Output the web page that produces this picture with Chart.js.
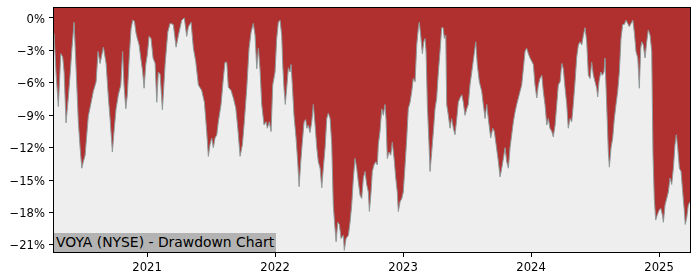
<!DOCTYPE html>
<html><head><meta charset="utf-8">
<script src="https://cdn.jsdelivr.net/npm/chart.js@4/dist/chart.umd.min.js"></script>
<style>
html,body{margin:0;padding:0;background:#fff;}
#wrap{position:relative;width:700px;height:280px;}
#label{position:absolute;left:54px;top:233px;height:19px;width:222px;background:#b3b3b3;font-family:"DejaVu Sans";font-size:13.9px;line-height:19px;color:#000;padding-left:2px;box-sizing:border-box;white-space:nowrap;}
</style></head>
<body><div id="wrap"><canvas id="c" width="700" height="280"></canvas><div id="label">VOYA (NYSE) - Drawdown Chart</div></div>
<script>
// Dates as decimal years
const dates = [
2020.273,2020.289,2020.307,2020.326,2020.341,2020.352,2020.367,2020.385,2020.398,2020.412,
2020.430,2020.445,2020.463,2020.477,2020.490,2020.502,2020.516,2020.529,2020.541,2020.560,
2020.580,2020.602,2020.617,2020.633,2020.659,2020.680,2020.698,2020.711,2020.729,2020.742,
2020.758,2020.776,2020.795,2020.809,2020.820,2020.834,2020.846,2020.862,2020.875,2020.888,
2020.901,2020.914,2020.924,2020.938,2020.951,2020.966,2020.977,2020.990,2021.002,2021.016,
2021.031,2021.047,2021.063,2021.076,2021.088,2021.102,2021.120,2021.141,2021.162,2021.180,
2021.205,2021.227,2021.245,2021.271,2021.291,2021.310,2021.323,2021.344,2021.362,2021.380,
2021.401,2021.427,2021.448,2021.466,2021.479,2021.492,2021.505,2021.518,2021.531,2021.545,
2021.557,2021.578,2021.596,2021.609,2021.623,2021.635,2021.656,2021.674,2021.693,2021.709,
2021.727,2021.745,2021.760,2021.779,2021.797,2021.813,2021.830,2021.844,2021.857,2021.870,
2021.883,2021.896,2021.914,2021.930,2021.940,2021.955,2021.969,2021.982,2022.000,2022.013,
2022.026,2022.039,2022.052,2022.060,2022.070,2022.080,2022.091,2022.104,2022.117,2022.125,
2022.135,2022.148,2022.164,2022.177,2022.188,2022.201,2022.213,2022.227,2022.240,2022.248,
2022.260,2022.273,2022.287,2022.299,2022.313,2022.326,2022.338,2022.352,2022.365,2022.377,
2022.391,2022.404,2022.416,2022.430,2022.443,2022.455,2022.466,2022.477,2022.490,2022.502,
2022.516,2022.534,2022.541,2022.555,2022.573,2022.586,2022.599,2022.612,2022.625,2022.638,
2022.651,2022.664,2022.677,2022.690,2022.703,2022.716,2022.729,2022.737,2022.750,2022.760,
2022.773,2022.787,2022.799,2022.807,2022.820,2022.834,2022.846,2022.859,2022.867,2022.877,
2022.891,2022.904,2022.916,2022.930,2022.943,2022.955,2022.963,2022.977,2022.990,2023.002,
2023.016,2023.029,2023.041,2023.055,2023.068,2023.080,2023.094,2023.107,2023.120,2023.127,
2023.138,2023.151,2023.162,2023.172,2023.180,2023.190,2023.203,2023.211,2023.224,2023.237,
2023.250,2023.263,2023.276,2023.289,2023.302,2023.313,2023.323,2023.334,2023.341,2023.354,
2023.367,2023.380,2023.393,2023.406,2023.420,2023.432,2023.445,2023.459,2023.471,2023.484,
2023.498,2023.510,2023.523,2023.537,2023.555,2023.568,2023.580,2023.596,2023.615,2023.627,
2023.641,2023.654,2023.666,2023.685,2023.701,2023.713,2023.727,2023.745,2023.758,2023.771,
2023.784,2023.797,2023.810,2023.823,2023.836,2023.849,2023.862,2023.875,2023.888,2023.901,
2023.914,2023.927,2023.940,2023.953,2023.966,2023.979,2023.992,2024.005,2024.018,2024.031,
2024.045,2024.057,2024.070,2024.084,2024.096,2024.109,2024.123,2024.135,2024.148,2024.162,
2024.174,2024.188,2024.201,2024.213,2024.227,2024.240,2024.252,2024.266,2024.279,2024.291,
2024.305,2024.318,2024.330,2024.344,2024.357,2024.370,2024.383,2024.396,2024.409,2024.422,
2024.435,2024.448,2024.461,2024.474,2024.487,2024.500,2024.513,2024.521,2024.531,2024.545,
2024.557,2024.570,2024.578,2024.591,2024.604,2024.612,2024.625,2024.638,2024.651,2024.664,
2024.677,2024.690,2024.703,2024.716,2024.729,2024.742,2024.755,2024.768,2024.781,2024.795,
2024.807,2024.820,2024.834,2024.846,2024.857,2024.865,2024.877,2024.891,2024.904,2024.916,
2024.930,2024.943,2024.953,2024.963,2024.974,2024.987,2025.000,2025.013,2025.026,2025.034,
2025.047,2025.060,2025.073,2025.086,2025.099,2025.112,2025.125,2025.135,2025.146,2025.159,
2025.172,2025.185,2025.198,2025.205,2025.216,2025.229,2025.242
];
// Drawdown in percent
const drawdown = [
-1.4,-5.1,-8.2,-3.3,-3.6,-5.0,-9.7,-7.3,-5.4,-3.0,
-0.4,-4.5,-9.6,-12.0,-13.9,-13.3,-12.7,-10.8,-9.1,-8.0,
-6.8,-5.9,-3.1,-4.2,-2.7,-4.2,-7.4,-9.3,-12.4,-10.5,
-8.4,-7.1,-6.2,-3.1,-6.2,-8.4,-7.1,-3.4,-1.0,-0.2,
-0.3,-1.4,-1.9,-2.5,-3.7,-5.0,-6.5,-4.3,-3.4,-1.7,
-1.9,-3.7,-4.2,-7.8,-5.0,-5.2,-8.5,-4.3,-1.3,-0.5,
-0.6,-2.7,-1.6,-0.2,0,-1.7,-0.8,-0.4,-2.8,-4.0,
-6.2,-6.7,-7.8,-10.5,-12.8,-11.7,-11.1,-12.0,-11.1,-10.8,
-9.6,-8.0,-5.6,-4.1,-4.1,-6.4,-6.7,-7.4,-8.3,-10.2,
-12.8,-11.7,-9.6,-6.5,-2.8,-1.3,-0.5,-1.6,-4.7,-2.8,
-4.8,-8.0,-9.9,-9.6,-10.2,-9.6,-10.5,-6.2,-5.0,-1.9,
-0.4,-0.2,-1.6,-4.3,-6.5,-8.0,-6.5,-4.6,-5.0,-4.3,
-6.2,-9.0,-11.1,-13.3,-15.6,-13.3,-11.5,-9.6,-9.4,-10.2,
-9.9,-10.6,-9.6,-8.0,-9.9,-12.0,-13.3,-13.9,-15.7,-13.9,
-12.0,-9.3,-8.8,-9.3,-11.7,-17.3,-19.1,-20.7,-18.9,-19.1,
-20.4,-20.1,-21.5,-20.4,-20.1,-18.9,-17.3,-14.8,-13.0,-13.9,
-15.2,-16.4,-16.7,-14.8,-14.2,-15.4,-16.1,-17.9,-16.1,-14.2,
-13.6,-13.3,-13.6,-11.7,-10.5,-8.4,-9.0,-8.0,-9.3,-13.0,
-12.4,-12.7,-11.5,-13.0,-14.8,-16.1,-17.9,-17.0,-16.7,-16.1,
-13.6,-11.1,-8.4,-7.8,-6.8,-5.6,-5.9,-2.5,-0.9,-0.4,
-1.6,-3.3,-2.2,-1.9,-3.1,-8.0,-11.7,-14.2,-12.4,-10.5,
-8.4,-7.4,-5.0,-3.1,-0.9,-0.9,-1.9,-1.6,-8.0,-9.0,
-10.2,-9.3,-10.2,-10.8,-9.3,-7.8,-7.4,-7.1,-7.8,-9.0,
-8.4,-8.0,-6.2,-5.0,-3.4,-2.2,-4.3,-5.9,-6.8,-8.0,
-9.3,-8.0,-9.3,-11.1,-10.2,-10.5,-11.7,-13.3,-14.7,-13.9,
-13.0,-12.0,-13.3,-13.9,-12.0,-10.8,-9.6,-8.7,-8.0,-7.4,
-6.8,-6.2,-4.7,-3.1,-2.8,-3.3,-3.7,-4.0,-4.3,-6.2,
-7.4,-6.2,-5.6,-5.3,-6.8,-8.0,-9.9,-9.3,-10.2,-10.5,
-11.0,-9.9,-8.0,-6.2,-5.9,-4.2,-4.7,-6.5,-8.0,-10.2,
-9.3,-9.6,-8.0,-5.9,-3.6,-2.5,-2.2,-2.5,-1.6,-0.9,
-2.2,-5.3,-5.6,-4.1,-5.3,-5.9,-6.5,-7.3,-5.9,-5.0,
-5.3,-5.0,-3.7,-8.0,-12.4,-13.8,-12.0,-11.1,-9.3,-8.0,
-6.8,-5.0,-1.9,-0.6,-0.6,-0.2,-0.5,-0.8,-0.5,-0.2,
-1.3,-3.1,-3.7,-6.5,-2.8,-2.2,-2.5,-3.7,-2.2,-1.1,
-1.6,-3.1,-12.7,-16.7,-18.7,-18.2,-17.8,-17.6,-18.2,-18.9,
-17.3,-16.7,-16.1,-14.8,-15.4,-13.9,-11.7,-10.8,-12.0,-13.9,
-14.2,-16.1,-17.9,-19.1,-18.5,-17.3,-17.0
];
const xTickYears = [2021, 2022, 2023, 2024, 2025];
const xTickLabels = ['2021', '2022', '2023', '2024', '2025'];
const yTickValues = [0, -3, -6, -9, -12, -15, -18, -21];

const points = dates.map((d, i) => ({ x: d, y: drawdown[i] }));

const framePlugin = {
  id: 'frame',
  beforeDraw(chart) {
    const { ctx, chartArea: a } = chart;
    ctx.save();
    ctx.fillStyle = '#eeeeee';
    ctx.fillRect(a.left, a.top, a.right - a.left, a.bottom - a.top);
    ctx.restore();
  },
  afterDraw(chart) {
    const { ctx, chartArea: a } = chart;
    ctx.save();
    ctx.strokeStyle = '#000';
    ctx.lineWidth = 1;
    ctx.strokeRect(a.left - 0.5, a.top - 0.5, a.right - a.left + 1, a.bottom - a.top + 1);
    ctx.restore();
  }
};

const tickFont = { family: 'DejaVu Sans', size: 11.6 };

new Chart(document.getElementById('c'), {
  type: 'line',
  data: {
    datasets: [{
      data: points,
      borderColor: '#8f9999',
      borderWidth: 1,
      backgroundColor: '#b03030',
      fill: 'end',
      pointRadius: 0,
      tension: 0
    }]
  },
  options: {
    responsive: false,
    animation: false,
    devicePixelRatio: 1,
    layout: { padding: { top: 8, right: 10, left: 0, bottom: 0 } },
    plugins: { legend: { display: false }, tooltip: { enabled: false } },
    scales: {
      x: {
        type: 'linear',
        min: 2020.273,
        max: 2025.242,
        afterFit(scale) { scale.height = 28; scale.paddingLeft = 0; scale.paddingRight = 0; },
        afterBuildTicks(axis) { axis.ticks = xTickYears.map(v => ({ value: v })); },
        ticks: {
          autoSkip: false,
          maxRotation: 0,
          padding: 4,
          color: '#000',
          font: tickFont,
          callback(value) { const i = xTickYears.indexOf(value); return i >= 0 ? xTickLabels[i] : ''; }
        },
        grid: { display: true, drawOnChartArea: false, drawTicks: true, tickLength: 5, color: '#000' },
        border: { display: false }
      },
      y: {
        type: 'linear',
        min: -21.65,
        max: 0.925,
        afterFit(scale) { scale.width = 54; scale.paddingTop = 0; scale.paddingBottom = 0; },
        afterBuildTicks(axis) { axis.ticks = yTickValues.map(v => ({ value: v })); },
        ticks: {
          autoSkip: false,
          padding: 4,
          labelOffset: 1.5,
          color: '#000',
          font: tickFont,
          callback(value) { return (value < 0 ? '\u2212' + Math.abs(value) : String(value)) + '%'; }
        },
        grid: { display: true, drawOnChartArea: false, drawTicks: true, tickLength: 5, color: '#000' },
        border: { display: false }
      }
    }
  },
  plugins: [framePlugin]
});
</script></body></html>
